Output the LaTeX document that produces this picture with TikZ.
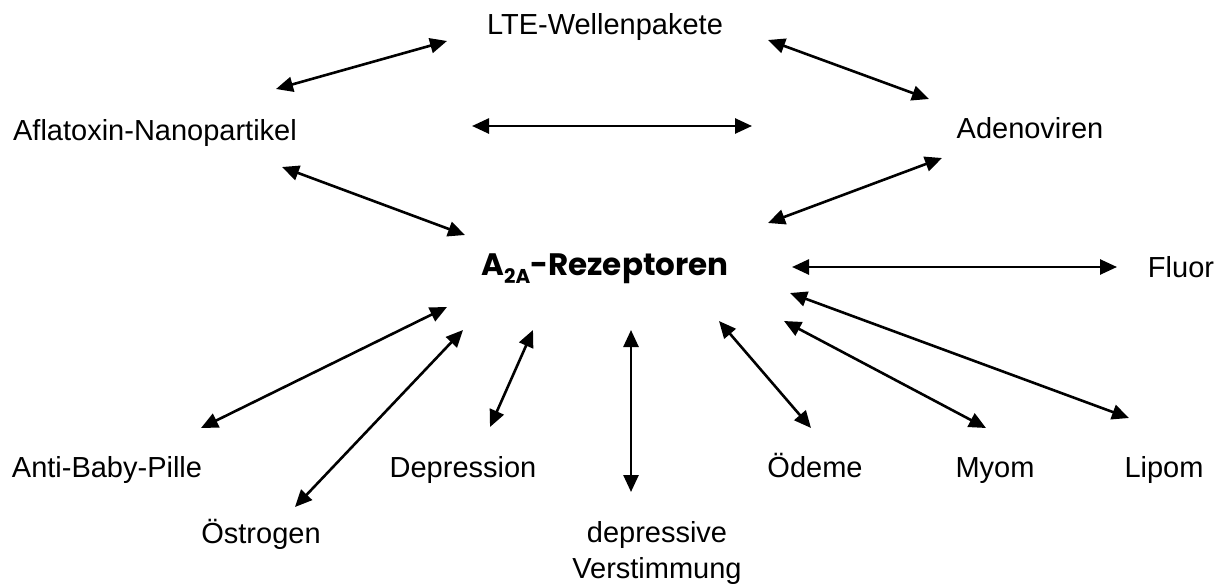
\documentclass[tikz,border=0pt]{standalone}
\usepackage{fontspec}
\setmainfont{Liberation Sans}
\newfontfamily\rezfont{Poppins}
\usetikzlibrary{arrows.meta,positioning}

\begin{document}
\begin{tikzpicture}[
    x=1pt, y=-1pt,
    every node/.style={font=\fontsize{29}{36}\selectfont, inner sep=0pt, anchor=base},
    link/.style={{Triangle[length=17pt,width=15pt]}-{Triangle[length=17pt,width=15pt]}, line width=2.6pt}
]
\useasboundingbox (0,0) rectangle (1230,586);

% Terms
\node (lte) at (605,35) {LTE-Wellenpakete};
\node (afla) at (155,140) {Aflatoxin-Nanopartikel};
\node (adeno) at (1030,138) {Adenoviren};
\node (rez) at (605,275) {\rezfont\bfseries\fontsize{31}{36}\selectfont A\raisebox{-0.28em}{\fontsize{20}{20}\selectfont 2A}-Rezeptoren};
\node (fluor) at (1181,277) {Fluor};
\node (pille) at (107,477) {Anti-Baby-Pille};
\node (oestr) at (261,543) {Östrogen};
\node (depr) at (463,477) {Depression};
\node[align=center] (verst) at (657,578) {depressive\\Verstimmung};
\node (oedem) at (815,477) {Ödeme};
\node (myom) at (995,477) {Myom};
\node (lipom) at (1164,477) {Lipom};

% Arrow ends
\coordinate (afla-up) at (276,89);
\coordinate (lte-l) at (447,41);
\coordinate (lte-r) at (768,40);
\coordinate (adeno-up) at (929,99);
\coordinate (mid-l) at (472,126);
\coordinate (mid-r) at (752,126);
\coordinate (afla-dn) at (282,167);
\coordinate (rez-nw) at (465,235);
\coordinate (adeno-dn) at (942,158);
\coordinate (rez-ne) at (768,223);
\coordinate (rez-e) at (792,267);
\coordinate (fluor-w) at (1117,267);
\coordinate (rez-s1) at (447,307);
\coordinate (pille-n) at (201,428);
\coordinate (rez-s2) at (463,330);
\coordinate (oestr-n) at (295,507);
\coordinate (rez-s3) at (533,330);
\coordinate (depr-n) at (490,427);
\coordinate (rez-s4) at (631,330);
\coordinate (verst-n) at (631,492);
\coordinate (rez-s5) at (719,321);
\coordinate (oedem-n) at (811,428);
\coordinate (rez-s6) at (784,321);
\coordinate (myom-n) at (986,428);
\coordinate (rez-s7) at (790,293);
\coordinate (lipom-n) at (1129,418);

% Links
\draw[link] (afla-up) -- (lte-l);
\draw[link] (lte-r) -- (adeno-up);
\draw[link] (mid-l) -- (mid-r);
\draw[link] (afla-dn) -- (rez-nw);
\draw[link] (adeno-dn) -- (rez-ne);
\draw[link] (rez-e) -- (fluor-w);
\draw[link] (rez-s1) -- (pille-n);
\draw[link] (rez-s2) -- (oestr-n);
\draw[link] (rez-s3) -- (depr-n);
\draw[link] (rez-s4) -- (verst-n);
\draw[link] (rez-s5) -- (oedem-n);
\draw[link] (rez-s6) -- (myom-n);
\draw[link] (rez-s7) -- (lipom-n);

\end{tikzpicture}
\end{document}
